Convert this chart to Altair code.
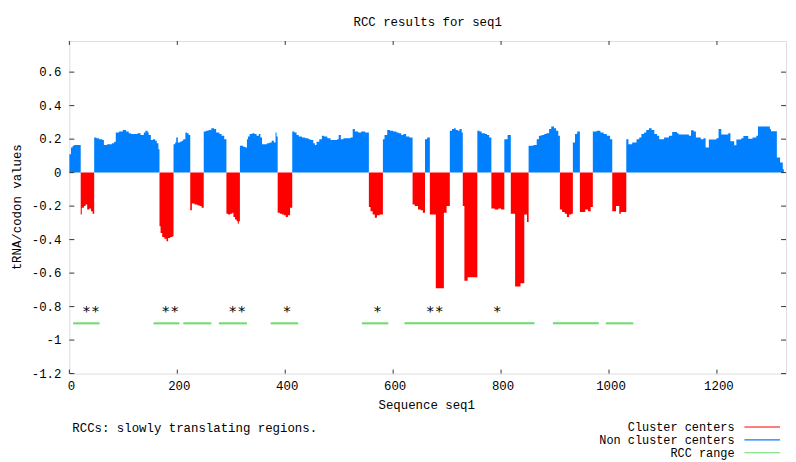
import altair as alt
import pandas as pd

# ---- profile: step breakpoints (sequence position) and tRNA/codon value ----
seq_pos = [0, 3, 6, 9,
           21, 23, 27, 30, 33, 37, 40, 43,
           46, 50, 55, 61, 64, 70, 79, 83, 86, 92, 99, 105, 110, 114, 120, 126, 132, 138, 141, 145, 147, 151, 155, 159, 162, 165,
           167, 169, 172, 176, 180, 183, 187, 191,
           193, 196, 198, 201, 205, 208, 211, 215, 218, 221,
           224, 227, 232, 237, 241, 245,
           249, 253, 258, 263, 268, 272, 278, 282, 287,
           291, 294, 298, 302, 304, 307, 310, 312, 314,
           316, 322, 326, 329, 331, 334, 339, 343, 347, 351, 354, 357, 366, 371, 375, 379, 382, 384,
           386, 390, 394, 398, 401, 405, 409,
           413, 417, 421, 425, 431, 437, 443, 447, 452, 455, 458, 463, 468, 472, 478, 484, 490, 496, 499, 503, 508, 514, 521, 525, 529, 535, 541, 548,
           555, 558, 562, 566, 570, 575,
           581, 584, 589, 594, 600, 606, 610, 615, 619, 624, 630,
           636, 640, 646, 651, 655,
           659, 663,
           668, 679, 694, 699,
           705, 709, 713, 716, 720, 723, 727,
           729, 732, 738,
           756, 760, 764, 770, 774, 778,
           782, 788, 795, 800,
           806, 812,
           818, 826, 836, 843, 848,
           851, 860, 866, 870, 875, 880, 884, 889, 893, 898, 902, 906,
           909, 913, 918, 922, 926, 930,
           933, 937, 941,
           946, 951, 956, 961, 966,
           970, 977, 984, 990, 996, 1002,
           1006, 1013, 1019, 1022,
           1032, 1036, 1043, 1051, 1056, 1060, 1065, 1069, 1074, 1079, 1084, 1089, 1093, 1102, 1111, 1117, 1126, 1129,
           1148, 1152, 1157, 1161, 1170, 1175, 1179, 1185, 1199, 1203, 1208, 1221, 1225, 1232, 1236, 1245, 1249, 1258,
           1266, 1273, 1276, 1298, 1300, 1311, 1317, 1322, 1324]
seq_val = [0.11, 0.15, 0.16, 0.165,
           -0.25, -0.21, -0.2, -0.19, -0.22, -0.215, -0.23, -0.245,
           0.21, 0.205, 0.2, 0.195, 0.165, 0.17, 0.175, 0.185, 0.24, 0.245, 0.255, 0.245, 0.235, 0.23, 0.23, 0.235, 0.225, 0.24, 0.25, 0.24, 0.225, 0.195, 0.2, 0.19, 0.175, 0.14,
           -0.32, -0.36, -0.385, -0.395, -0.41, -0.39, -0.385, -0.38,
           0.17, 0.18, 0.21, 0.18, 0.185, 0.19, 0.2, 0.24, 0.235, 0.225,
           -0.225, -0.185, -0.19, -0.195, -0.2, -0.21,
           0.245, 0.25, 0.255, 0.265, 0.26, 0.24, 0.23, 0.22, 0.2,
           -0.245, -0.25, -0.245, -0.24, -0.265, -0.28, -0.29, -0.305, -0.29,
           0.16, 0.155, 0.15, 0.2, 0.215, 0.23, 0.235, 0.23, 0.22, 0.23, 0.21, 0.17, 0.175, 0.18, 0.19, 0.18, 0.24, 0.215,
           -0.24, -0.245, -0.25, -0.255, -0.265, -0.255, -0.21,
           0.245, 0.24, 0.225, 0.215, 0.21, 0.205, 0.2, 0.195, 0.175, 0.165, 0.185, 0.2, 0.22, 0.215, 0.205, 0.195, 0.195, 0.2, 0.225, 0.2, 0.205, 0.205, 0.21, 0.26, 0.245, 0.24, 0.245, 0.24,
           -0.205, -0.23, -0.25, -0.27, -0.255, -0.25,
           0.2, 0.225, 0.255, 0.25, 0.245, 0.24, 0.235, 0.225, 0.23, 0.215, 0.21,
           -0.19, -0.2, -0.22, -0.225, -0.24,
           0.2, 0.21,
           -0.25, -0.69, -0.24, -0.2,
           0.25, 0.26, 0.265, 0.255, 0.25, 0.26, 0.24,
           -0.2, -0.645, -0.625,
           0.25, 0.245, 0.235, 0.23, 0.225, 0.21,
           -0.215, -0.22, -0.215, -0.22,
           0.2, 0.225,
           -0.245, -0.68, -0.66, -0.25, -0.295,
           0.16, 0.165, 0.2, 0.22, 0.225, 0.23, 0.235, 0.26, 0.275, 0.265, 0.25, 0.22,
           -0.22, -0.235, -0.245, -0.265, -0.25, -0.245,
           0.18, 0.23, 0.245,
           -0.235, -0.235, -0.22, -0.23, -0.205,
           0.245, 0.25, 0.24, 0.23, 0.22, 0.2,
           -0.23, -0.2, -0.245, -0.235,
           0.2, 0.17, 0.18, 0.2, 0.21, 0.23, 0.24, 0.255, 0.265, 0.255, 0.23, 0.22, 0.2, 0.21, 0.22, 0.243, 0.235, 0.228,
           0.22, 0.253, 0.245, 0.21, 0.2, 0.205, 0.15, 0.198, 0.205, 0.26, 0.228, 0.235, 0.188, 0.163, 0.198, 0.205, 0.218, 0.202,
           0.21, 0.22, 0.276, 0.26, 0.247, 0.09, 0.06, 0.02, 0.0]

# ---- RCC ranges and cluster-centre markers ----
rcc_start = [7, 156, 211, 277, 373, 542, 621, 896, 994]
rcc_end = [56, 204, 263, 329, 424, 591, 862, 981, 1045]
rcc_level = [-0.9] * 9
star_pos = [40, 187, 311, 403, 571, 677, 793]
star_text = ["**", "**", "**", "*", "*", "**", "*"]
star_level = [-0.8] * 7

x_ticks = [0, 200, 400, 600, 800, 1000, 1200]
x_tick_labels = ["0", "200", "400", "600", "800", "1000", "1200"]
y_ticks = [-1.2, -1.0, -0.8, -0.6, -0.4, -0.2, 0, 0.2, 0.4, 0.6]
y_tick_labels = ["-1.2", "-1", "-0.8", "-0.6", "-0.4", "-0.2", "0", "0.2", "0.4", "0.6"]

legend_labels = ["Cluster centers", "Non cluster centers", "RCC range"]
legend_colors = ["#ff0000", "#0080ff", "#66dd66"]

FONT = "Liberation Mono"
FS = 12.5
W, H = 724, 336

prof = pd.DataFrame({"pos": seq_pos, "val": seq_val})
prof["up"] = prof["val"].clip(lower=0)
prof["down"] = prof["val"].clip(upper=0)

xs = alt.Scale(domain=[0, 1328], nice=False, zero=False)
ys = alt.Scale(domain=[-1.2, 0.786], nice=False, zero=False)

blue = alt.Chart(prof).mark_area(interpolate="step-after", color="#0080ff").encode(
    x=alt.X("pos:Q", scale=xs, axis=None),
    y=alt.Y("up:Q", scale=ys, axis=None),
    y2=alt.datum(0),
)
red = alt.Chart(prof).mark_area(interpolate="step-after", color="#ff0000").encode(
    x=alt.X("pos:Q", scale=xs, axis=None),
    y=alt.Y("down:Q", scale=ys, axis=None),
    y2=alt.datum(0),
)

rcc = alt.Chart(pd.DataFrame({"s": rcc_start, "e": rcc_end, "v": rcc_level})).mark_rule(
    color="#66dd66", strokeWidth=2).encode(
    x=alt.X("s:Q", scale=xs, axis=None), x2="e:Q", y=alt.Y("v:Q", scale=ys, axis=None))

stars = alt.Chart(pd.DataFrame({"p": star_pos, "t": star_text, "v": star_level})).mark_text(
    font="DejaVu Sans Mono", fontSize=15, color="#000", baseline="middle", dy=4).encode(
    x=alt.X("p:Q", scale=xs, axis=None), y=alt.Y("v:Q", scale=ys, axis=None), text="t:N")

tick_col = "#333333"
ydf = pd.DataFrame({"t": y_ticks, "lab": y_tick_labels})
xdf = pd.DataFrame({"t": x_ticks, "lab": x_tick_labels})
yl = alt.Chart(ydf).mark_rule(color=tick_col).encode(
    y=alt.Y("t:Q", scale=ys, axis=None), x=alt.value(0), x2=alt.value(5))
yr = alt.Chart(ydf).mark_rule(color=tick_col).encode(
    y=alt.Y("t:Q", scale=ys, axis=None), x=alt.value(W - 5), x2=alt.value(W))
ylab = alt.Chart(ydf).mark_text(font=FONT, fontSize=FS, color="#000", align="right",
                                baseline="middle").encode(
    y=alt.Y("t:Q", scale=ys, axis=None), x=alt.value(-8), text="lab:N")
xb = alt.Chart(xdf).mark_rule(color=tick_col).encode(
    x=alt.X("t:Q", scale=xs, axis=None), y=alt.value(H - 4), y2=alt.value(H))
xt = alt.Chart(xdf).mark_rule(color=tick_col).encode(
    x=alt.X("t:Q", scale=xs, axis=None), y=alt.value(0), y2=alt.value(4))
xlab = alt.Chart(xdf).mark_text(font=FONT, fontSize=FS, color="#000", align="center",
                                baseline="middle", dx=2).encode(
    x=alt.X("t:Q", scale=xs, axis=None), y=alt.value(H + 13), text="lab:N")

one = pd.DataFrame({"a": [0]})


def label(txt, x, y, align="center", angle=0, size=FS):
    kw = dict(font=FONT, fontSize=size, color="#000", align=align, baseline="middle")
    if angle:
        kw["angle"] = angle
    return alt.Chart(one).mark_text(**kw).encode(
        x=alt.value(x), y=alt.value(y), text=alt.value(txt))


texts = [
    label("RCC results for seq1", W / 2, -19),
    label("Sequence seq1", 361, 368),
    label("tRNA/codon values", -53, H / 2, angle=270),
    label("RCCs: slowly translating regions.", 3, 391, align="left"),
]
leg_y = [390, 403, 416]
for lab, col, yy in zip(legend_labels, legend_colors, leg_y):
    texts.append(label(lab, 672, yy, align="right", size=12))
    texts.append(alt.Chart(one).mark_rule(color=col, strokeWidth=1.2).encode(
        x=alt.value(682), x2=alt.value(718), y=alt.value(yy)))

chart = alt.layer(blue, red, rcc, stars, yl, yr, ylab, xb, xt, xlab, *texts).properties(
    width=W, height=H,
    autosize=alt.AutoSizeParams(type="none"),
    padding={"left": 62, "top": 31, "right": 2, "bottom": 87},
).configure_view(stroke="#333333", strokeWidth=1.3).configure(background="white")

chart.save("out.html", embed_options={"renderer": "svg", "actions": False})
